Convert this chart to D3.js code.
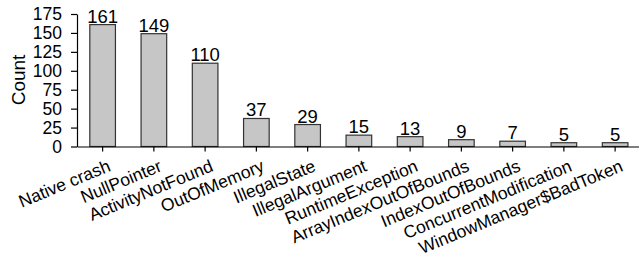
<!DOCTYPE html>
<html><head><meta charset="utf-8">
<script src="https://cdn.jsdelivr.net/npm/d3@7"></script>
<style>
html,body{margin:0;padding:0;background:#fff;}
svg{display:block;font-family:"Liberation Sans",Arial,sans-serif;}
</style></head>
<body>
<svg id="chart" width="639" height="263"></svg>
<script>
const categories = ["Native crash","NullPointer","ActivityNotFound","OutOfMemory","IllegalState","IllegalArgument","RuntimeException","ArrayIndexOutOfBounds","IndexOutOfBounds","ConcurrentModification","WindowManager$BadToken"];
const counts = [161,149,110,37,29,15,13,9,7,5,5];
const yTicks = [0,25,50,75,100,125,150,175];

const FONT = "Liberation Sans, Arial, sans-serif";
const svg = d3.select("#chart");
const x = d3.scaleBand().domain(categories).range([77, 640.75]).paddingInner(0.5).paddingOuter(0.25);
const y = d3.scaleLinear().domain([0,175]).range([146.5, 14]);

svg.selectAll("rect.bar").data(counts).enter().append("rect")
  .attr("class","bar")
  .attr("x",(d,i)=>x(categories[i]))
  .attr("width",x.bandwidth())
  .attr("y",d=>y(d))
  .attr("height",d=>y(0)-y(d))
  .attr("fill","#c6c6c6").attr("stroke","#333").attr("stroke-width",1.2);

svg.selectAll("text.val").data(counts).enter().append("text")
  .attr("class","val")
  .attr("x",(d,i)=>x(categories[i])+x.bandwidth()/2)
  .attr("y",d=>y(d)-2)
  .attr("text-anchor","middle").attr("font-size",18.5).attr("fill","#000")
  .text(d=>d);

const yAxis = svg.append("g").attr("transform","translate(77,0)")
  .call(d3.axisLeft(y).tickValues(yTicks).tickSize(6).tickPadding(9).tickSizeOuter(0));
yAxis.selectAll("text").attr("font-size",17.5).attr("fill","#000").attr("font-family",FONT);
yAxis.select(".domain").attr("stroke","#000").attr("stroke-width",1.2);
yAxis.selectAll(".tick line").attr("stroke","#000").attr("stroke-width",1.2);

const xAxis = svg.append("g").attr("transform",`translate(0,${y(0)})`)
  .call(d3.axisBottom(x).tickSize(5).tickSizeOuter(0));
xAxis.select(".domain").attr("stroke","#000").attr("stroke-width",1.2);
xAxis.selectAll(".tick line").attr("stroke","#000").attr("stroke-width",1.2);
xAxis.selectAll("text")
  .attr("font-size",17.5).attr("fill","#000").attr("font-family",FONT)
  .attr("text-anchor","end")
  .attr("transform","translate(9,24) rotate(-22.5)")
  .attr("y",0).attr("dy",0);

svg.append("text")
  .attr("transform","translate(25,80) rotate(-90)")
  .attr("text-anchor","middle").attr("font-size",19).attr("fill","#000")
  .attr("font-family",FONT)
  .text("Count");
</script>
</body></html>
